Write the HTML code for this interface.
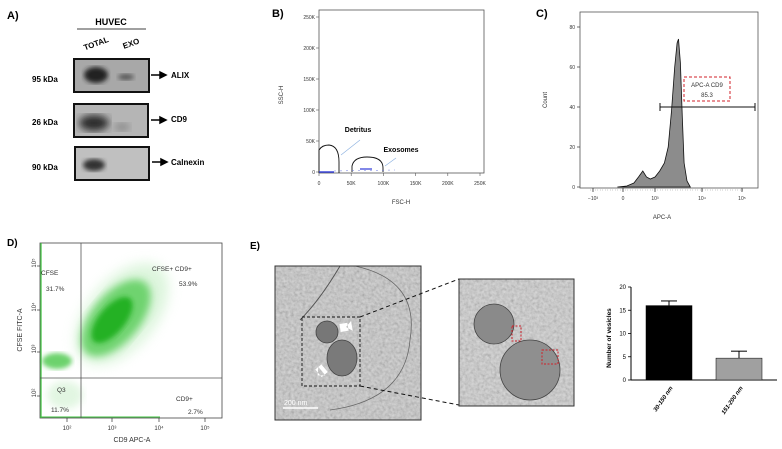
<!DOCTYPE html>
<html><head><meta charset="utf-8"><style>
html,body{margin:0;padding:0;background:#fff}
svg{display:block;font-family:"Liberation Sans",Arial,sans-serif}
</style></head><body>
<svg width="782" height="449" viewBox="0 0 782 449">
<defs>
<filter id="blur2"><feGaussianBlur stdDeviation="2.5"/></filter>
<filter id="blur4"><feGaussianBlur stdDeviation="4"/></filter>
<filter id="blur6" x="-50%" y="-50%" width="200%" height="200%"><feGaussianBlur stdDeviation="6"/></filter>
<filter id="noise" x="0" y="0" width="100%" height="100%">
<feTurbulence type="fractalNoise" baseFrequency="0.35" numOctaves="2" seed="3"/>
<feColorMatrix type="saturate" values="0"/>
<feComponentTransfer><feFuncR type="linear" slope="0.7" intercept="0.2"/><feFuncG type="linear" slope="0.7" intercept="0.2"/><feFuncB type="linear" slope="0.7" intercept="0.2"/></feComponentTransfer>
</filter>
</defs>

<!-- Panel A -->
<g font-weight="bold" font-size="8">
<text x="7" y="19" font-size="11">A)</text>
<text x="111" y="25" text-anchor="middle" font-size="9">HUVEC</text>
<line x1="77" y1="29" x2="146" y2="29" stroke="#000" stroke-width="0.8"/>
<text x="97" y="46" text-anchor="middle" transform="rotate(-20 97 46)">TOTAL</text>
<text x="132" y="46" text-anchor="middle" transform="rotate(-20 132 46)">EXO</text>
<g>
<rect x="74" y="59" width="75" height="33" fill="#a8a8a8" stroke="#111" stroke-width="2"/>
<ellipse cx="96" cy="75" rx="12" ry="8" fill="#222" filter="url(#blur2)"/>
<ellipse cx="126" cy="77" rx="8" ry="3" fill="#555" filter="url(#blur2)"/>
</g>
<g>
<rect x="74" y="104" width="74" height="33" fill="#b5b5b5" stroke="#111" stroke-width="2"/>
<ellipse cx="94" cy="123" rx="15" ry="8" fill="#2a2a2a" filter="url(#blur4)"/>
<ellipse cx="122" cy="127" rx="8" ry="4" fill="#888" filter="url(#blur4)"/>
</g>
<g>
<rect x="75" y="147" width="74" height="33" fill="#c0c0c0" stroke="#111" stroke-width="2"/>
<ellipse cx="94" cy="165" rx="11" ry="6" fill="#333" filter="url(#blur2)"/>
</g>
<text x="32" y="82">95 kDa</text>
<text x="32" y="125">26 kDa</text>
<text x="32" y="170">90 kDa</text>
<g stroke="#000" stroke-width="1.5" fill="#000">
<line x1="151" y1="75" x2="161" y2="75"/><path d="M160 72 L166 75 L160 78Z"/>
<line x1="151" y1="120" x2="161" y2="120"/><path d="M160 117 L166 120 L160 123Z"/>
<line x1="152" y1="162" x2="162" y2="162"/><path d="M161 159 L167 162 L161 165Z"/>
</g>
<text x="171" y="78">ALIX</text>
<text x="171" y="122">CD9</text>
<text x="171" y="165">Calnexin</text>
</g>

<!-- Panel B -->
<g>
<text x="272" y="17" font-size="11" font-weight="bold">B)</text>
<rect x="319" y="10" width="165" height="163" fill="none" stroke="#555" stroke-width="0.8"/>
<g id="bAxes" font-size="5" fill="#333"></g>
<text x="283" y="95" font-size="6" fill="#333" text-anchor="middle" transform="rotate(-90 283 95)">SSC-H</text>
<text x="401" y="204" font-size="6" fill="#333" text-anchor="middle">FSC-H</text>
<path d="M319 173 L319 150 Q322 145 329 145 Q339 146 339 162 L339 173" fill="none" stroke="#111" stroke-width="0.9"/>
<path d="M352 172 L352 166 Q354 157 367 157 Q383 157 383 168 L383 172" fill="none" stroke="#111" stroke-width="0.9"/>
<line x1="319" y1="172" x2="334" y2="172" stroke="#2f3ad8" stroke-width="1.4"/>
<line x1="360" y1="169" x2="372" y2="169" stroke="#2f3ad8" stroke-width="1.2"/>
<line x1="334" y1="171" x2="395" y2="170" stroke="#6a78e0" stroke-width="0.5" stroke-dasharray="2 4"/>
<line x1="341" y1="155" x2="360" y2="140" stroke="#8ab0e0" stroke-width="0.6"/>
<line x1="385" y1="166" x2="396" y2="158" stroke="#8ab0e0" stroke-width="0.6"/>
<text x="358" y="132" font-size="7" font-weight="bold" text-anchor="middle">Detritus</text>
<text x="401" y="152" font-size="7" font-weight="bold" text-anchor="middle">Exosomes</text>
</g>

<!-- Panel C -->
<g>
<text x="536" y="17" font-size="11" font-weight="bold">C)</text>
<rect x="580" y="12" width="178" height="176" fill="none" stroke="#555" stroke-width="0.8"/>
<g id="cAxes" font-size="5" fill="#333"></g>
<path id="cHist" fill="#8c8c8c" stroke="#111" stroke-width="0.8"/>
<text x="547" y="100" font-size="6" fill="#333" text-anchor="middle" transform="rotate(-90 547 100)">Count</text>
<text x="662" y="219" font-size="6" fill="#333" text-anchor="middle">APC-A</text>
<g stroke="#111" stroke-width="1">
<line x1="660" y1="107" x2="755" y2="107"/><line x1="660" y1="103" x2="660" y2="111"/><line x1="755" y1="103" x2="755" y2="111"/>
</g>
<rect x="684" y="77" width="46" height="24" fill="#fff" fill-opacity="0.6" stroke="#d0202a" stroke-width="1" stroke-dasharray="3 2"/>
<text x="707" y="87" font-size="6" text-anchor="middle" fill="#333">APC-A CD9</text>
<text x="707" y="97" font-size="6" text-anchor="middle" fill="#333">85.3</text>
</g>

<!-- Panel D -->
<g>
<text x="7" y="246" font-size="10" font-weight="bold">D)</text>
<g>
<ellipse cx="122" cy="314" rx="34" ry="60" transform="rotate(40 122 314)" fill="#c6efc6" opacity="0.6" filter="url(#blur6)"/>
<ellipse cx="65" cy="395" rx="18" ry="14" fill="#d6f3d6" opacity="0.7" filter="url(#blur4)"/>
<ellipse cx="116" cy="318" rx="24" ry="46" transform="rotate(40 116 318)" fill="#4cc84c" opacity="0.75" filter="url(#blur4)"/>
<ellipse cx="112" cy="320" rx="13" ry="28" transform="rotate(40 112 320)" fill="#1fae1f" opacity="0.9" filter="url(#blur2)"/>
<ellipse cx="57" cy="361" rx="15" ry="8" fill="#3cc43c" opacity="0.75" filter="url(#blur2)"/>
</g>
<rect x="40" y="243" width="182" height="175" fill="none" stroke="#444" stroke-width="0.8"/>
<line x1="41" y1="243" x2="41" y2="418" stroke="#3cc43c" stroke-width="1.2"/>
<line x1="40" y1="417" x2="160" y2="417" stroke="#3cc43c" stroke-width="1"/>
<line x1="81" y1="243" x2="81" y2="418" stroke="#555" stroke-width="0.8"/>
<line x1="40" y1="378" x2="222" y2="378" stroke="#555" stroke-width="0.8"/>
<g id="dAxes" font-size="6" fill="#333"></g>
<text x="22" y="330" font-size="7" fill="#333" text-anchor="middle" transform="rotate(-90 22 330)">CFSE FITC-A</text>
<text x="132" y="442" font-size="7" fill="#333" text-anchor="middle">CD9 APC-A</text>
<g font-size="6.5" fill="#333">
<text x="41" y="275">CFSE</text>
<text x="46" y="291">31.7%</text>
<text x="152" y="271">CFSE+ CD9+</text>
<text x="179" y="286">53.9%</text>
<text x="57" y="392">Q3</text>
<text x="51" y="412">11.7%</text>
<text x="176" y="401">CD9+</text>
<text x="188" y="414">2.7%</text>
</g>
</g>

<!-- Panel E -->
<g>
<text x="250" y="249" font-size="10" font-weight="bold">E)</text>
<g>
<rect x="275" y="266" width="146" height="154" fill="#888" filter="url(#noise)"/>
<rect x="275" y="266" width="146" height="154" fill="#7d7d7d" opacity="0.3"/>
<path d="M340 266 Q320 300 300 320" fill="none" stroke="#555" stroke-width="1"/>
<path d="M355 266 Q420 280 410 340 Q405 400 330 410" fill="none" stroke="#666" stroke-width="0.8"/>
<circle cx="327" cy="332" r="11" fill="#777" stroke="#444" stroke-width="0.8"/>
<ellipse cx="342" cy="358" rx="15" ry="18" fill="#7a7a7a" stroke="#444" stroke-width="0.8"/>
<rect x="275" y="266" width="146" height="154" fill="none" stroke="#333" stroke-width="1"/>
<rect x="302" y="317" width="58" height="69" fill="none" stroke="#111" stroke-width="0.9" stroke-dasharray="3 2"/>
<path d="M352 322 l-6 5 l6 5 z M340 323 h8 v8 h-8z" fill="#fff" transform="rotate(-10 346 327)"/>
<path d="M322 367 l-6 6 l6 5 z M318 367 h8 v10 h-8z" fill="#fff" transform="rotate(-40 320 372)"/>
<line x1="283" y1="408" x2="318" y2="408" stroke="#fff" stroke-width="1.5"/>
<text x="284" y="405" font-size="7" fill="#fff">200 nm</text>
</g>
<line x1="360" y1="317" x2="459" y2="279" stroke="#111" stroke-width="1" stroke-dasharray="4 3"/>
<line x1="360" y1="386" x2="459" y2="405" stroke="#111" stroke-width="1" stroke-dasharray="4 3"/>
<g>
<rect x="459" y="279" width="115" height="127" fill="#999" filter="url(#noise)"/>
<rect x="459" y="279" width="115" height="127" fill="#8a8a8a" opacity="0.3"/>
<circle cx="494" cy="324" r="20" fill="#8a8a8a" stroke="#444" stroke-width="0.8"/>
<circle cx="530" cy="370" r="30" fill="#8f8f8f" stroke="#444" stroke-width="0.8"/>
<rect x="459" y="279" width="115" height="127" fill="none" stroke="#333" stroke-width="1"/>
<rect x="512" y="326" width="9" height="15" fill="none" stroke="#d0202a" stroke-width="1" stroke-dasharray="2 1.5"/>
<rect x="542" y="350" width="16" height="14" fill="none" stroke="#d0202a" stroke-width="1" stroke-dasharray="2 1.5"/>
</g>
<g id="eBar"></g>
<text x="611" y="338" font-size="6.5" font-weight="bold" text-anchor="middle" transform="rotate(-90 611 338)">Number of vesicles</text>
</g>

<script>
var NS='http://www.w3.org/2000/svg';
function mk(p,tag,attrs,txt){var e=document.createElementNS(NS,tag);for(var k in attrs)e.setAttribute(k,attrs[k]);if(txt!==undefined)e.textContent=txt;p.appendChild(e);return e;}

/* Panel B axes */
var bTickVals=[0,50,100,150,200,250];
var bTickLabels=['0','50K','100K','150K','200K','250K'];
function bx(v){return 319+v*(480-319)/250;}
function by(v){return 172-v*(172-17)/250;}
var gB=document.getElementById('bAxes');
bTickVals.forEach(function(v,i){
 var t=mk(gB,'text',{x:315,y:by(v)+2,'text-anchor':'end'},bTickLabels[i]);
 
 
 mk(gB,'line',{x1:316,x2:319,y1:by(v),y2:by(v),stroke:'#555','stroke-width':0.6});
 var u=mk(gB,'text',{x:bx(v),y:185,'text-anchor':'middle'},bTickLabels[i]);
 
 
 mk(gB,'line',{x1:bx(v),x2:bx(v),y1:173,y2:176,stroke:'#555','stroke-width':0.6});
});

/* Panel C histogram */
var cLogX=[2.2,2.4,2.55,2.65,2.74,2.82,2.9,3.0,3.1,3.2,3.28,3.35,3.42,3.47,3.5,3.54,3.58,3.62,3.68,3.75];
var cCounts=[0,0.5,2,5,8,5,4,5,8,12,20,38,60,72,74,62,35,12,3,0];
var cYTicks=[0,20,40,60,80];
var cXTickLabels=['\u221210\u00b3','0','10\u00b3','10\u2074','10\u2075'];
function cxLog(l){return 655+(l-3)*47;}
function cy(v){return 187-v*2;}
var d='M'+cxLog(cLogX[0])+' '+cy(0);
cLogX.forEach(function(l,i){d+=' L'+cxLog(l).toFixed(1)+' '+cy(cCounts[i]).toFixed(1);});
d+=' L'+cxLog(cLogX[cLogX.length-1])+' '+cy(0)+' Z';
document.getElementById('cHist').setAttribute('d',d);
var gC=document.getElementById('cAxes');
cYTicks.forEach(function(v){
 var t=mk(gC,'text',{x:575,y:cy(v)+2,'text-anchor':'end'},String(v));
 
 
 mk(gC,'line',{x1:577,x2:580,y1:cy(v),y2:cy(v),stroke:'#333','stroke-width':0.7});
});
var cXpix=[593,623,655,702,742];
cXTickLabels.forEach(function(s,i){
 var t=mk(gC,'text',{x:cXpix[i],y:200,'text-anchor':'middle'},s);
 
 
 mk(gC,'line',{x1:cXpix[i],x2:cXpix[i],y1:188,y2:192,stroke:'#333','stroke-width':0.8});
});
mk(gC,'line',{x1:590,x2:745,y1:190,y2:190,stroke:'#333','stroke-width':0.5,'stroke-dasharray':'0.5 2'});

/* Panel D axes */
var dTickLabels=['10\u00b2','10\u00b3','10\u2074','10\u2075'];
var dYpix=[393,349,307,263];
var dXpix=[67,112,159,205];
var gD=document.getElementById('dAxes');
dTickLabels.forEach(function(s,i){
 var t=mk(gD,'text',{x:36,y:dYpix[i],'text-anchor':'middle',transform:'rotate(-90 36 '+dYpix[i]+')'},s);
 
 
 var u=mk(gD,'text',{x:dXpix[i],y:430,'text-anchor':'middle'},s);
 
 
 mk(gD,'line',{x1:dXpix[i],x2:dXpix[i],y1:418,y2:422,stroke:'#333','stroke-width':0.7});
 mk(gD,'line',{x1:37,x2:40,y1:dYpix[i]+3,y2:dYpix[i]+3,stroke:'#333','stroke-width':0.7});
});

/* Panel E bar chart */
var eCategories=['30-150 nm','151-200 nm'];
var eValues=[16,4.7];
var eErrors=[1,1.5];
var eYTicks=[0,5,10,15,20];
var eColors=['#000','#a0a0a0'];
function ey(v){return 380-v*(380-287)/20;}
var gE=document.getElementById('eBar');
mk(gE,'line',{x1:631,x2:631,y1:287,y2:380,stroke:'#000','stroke-width':1});
mk(gE,'line',{x1:631,x2:777,y1:380,y2:380,stroke:'#000','stroke-width':1});
eYTicks.forEach(function(v){
 var t=mk(gE,'text',{x:626,y:ey(v)+2,'text-anchor':'end','font-size':6},String(v));
 
 
 mk(gE,'line',{x1:628,x2:631,y1:ey(v),y2:ey(v),stroke:'#000','stroke-width':0.8});
});
var barX0=646, barStep=70, barW=46;
eCategories.forEach(function(c,i){
 var x=barX0+i*barStep;
 var hi=ey(eValues[i]+eErrors[i]);
 mk(gE,'line',{x1:x+barW/2,x2:x+barW/2,y1:hi,y2:ey(eValues[i]),stroke:'#000','stroke-width':1});
 mk(gE,'line',{x1:x+barW/2-8,x2:x+barW/2+8,y1:hi,y2:hi,stroke:'#000','stroke-width':1});
 var r=mk(gE,'rect',{x:x,y:ey(eValues[i]),width:barW,height:380-ey(eValues[i]),fill:eColors[i],stroke:'#000','stroke-width':0.5});
 
 
 var lx=x+barW/2+4, ly=388;
 var t=mk(gE,'text',{x:lx,y:ly,'text-anchor':'end','font-size':6,'font-weight':'bold','font-style':'italic',transform:'rotate(-55 '+lx+' '+ly+')'},c);
 
 
});
</script>
</svg>
</body></html>
